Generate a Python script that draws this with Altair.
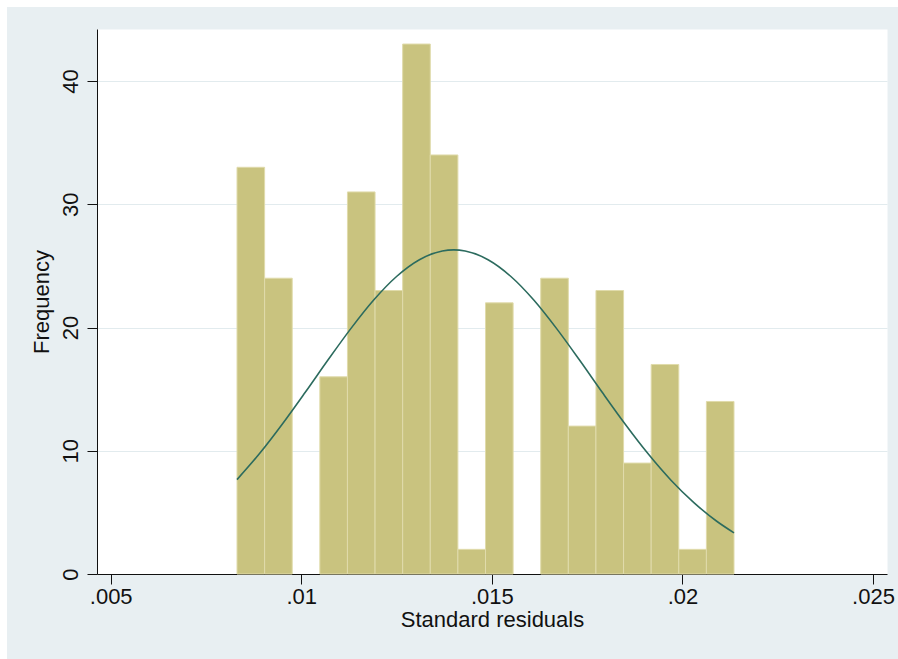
import altair as alt
import pandas as pd

# ---- data ----
bin_start = 0.008314
bin_width = 0.0007244
counts = [33, 24, 0, 16, 31, 23, 43, 34, 2, 22, 0, 24, 12, 23, 9, 17, 2, 14]

curve_x = [0.008314, 0.0089, 0.0095, 0.0101, 0.0107, 0.0113, 0.0119, 0.0125,
           0.0131, 0.0137, 0.0140, 0.0143, 0.0149, 0.0155, 0.0161, 0.0167,
           0.0173, 0.0179, 0.0185, 0.0191, 0.0197, 0.0203, 0.0209, 0.021353]
curve_y = [7.66, 9.75, 12.15, 14.72, 17.36, 19.91, 22.23, 24.14,
           25.50, 26.21, 26.30, 26.21, 25.50, 24.14, 22.23, 19.91,
           17.36, 14.72, 12.15, 9.75, 7.61, 5.79, 4.28, 3.34]

x_ticks = [0.005, 0.01, 0.015, 0.02, 0.025]
y_ticks = [0, 10, 20, 30, 40]

# ---- tables ----
bars = pd.DataFrame({
    "x0": [bin_start + i * bin_width for i in range(len(counts))],
    "x1": [bin_start + (i + 1) * bin_width for i in range(len(counts))],
    "count": counts,
})
bars = bars[bars["count"] > 0]
curve = pd.DataFrame({"x": curve_x, "y": curve_y})
dummy = pd.DataFrame({"a": [0]})

FONT = "Liberation Sans"
FS = 22
W, H = 790, 545

xscale = alt.Scale(domain=[0.004641, 0.025367], nice=False, zero=False)
yscale = alt.Scale(domain=[0, 44.22], nice=False)

xaxis = alt.Axis(
    values=x_ticks, title="Standard residuals", grid=False,
    labelExpr="slice(format(datum.value, '.3~f'), 1)",
    labelFont=FONT, labelFontSize=FS, labelColor="#111",
    titleFont=FONT, titleFontSize=FS, titleFontWeight="normal", titleColor="#111",
    tickSize=10, tickColor="#111", domainColor="#111", labelPadding=2,
    titlePadding=2, labelFlush=False, labelOverlap=False,
)
yaxis = alt.Axis(
    values=y_ticks, title="Frequency", grid=True, gridColor="#e2ebee", gridWidth=1.2,
    labelAngle=270, labelAlign="center", labelBaseline="alphabetic",
    labelFont=FONT, labelFontSize=FS, labelColor="#111",
    titleFont=FONT, titleFontSize=FS, titleFontWeight="normal", titleColor="#111",
    tickSize=10, tickColor="#111", domainColor="#111", labelPadding=10,
    titlePadding=6, labelFlush=False, labelOverlap=False,
)

hist = alt.Chart(bars).mark_rect(
    color="#c9c37f", stroke="#e0dbab", strokeWidth=1
).encode(
    x=alt.X("x0:Q", scale=xscale, axis=xaxis),
    x2="x1:Q",
    y=alt.Y("count:Q", scale=yscale, axis=yaxis),
    y2=alt.datum(0),
)

line = alt.Chart(curve).mark_line(
    color="#2c6b5e", strokeWidth=1.6, interpolate="monotone"
).encode(
    x=alt.X("x:Q", scale=xscale),
    y=alt.Y("y:Q", scale=yscale),
)

# white border strips at the top and left of the picture
top_strip = alt.Chart(dummy).mark_rect(color="white").encode(
    x=alt.value(-97), x2=alt.value(W + 11), y=alt.value(-29), y2=alt.value(-22)
)
left_strip = alt.Chart(dummy).mark_rect(color="white").encode(
    x=alt.value(-97), x2=alt.value(-90), y=alt.value(-29), y2=alt.value(H + 85)
)

chart = alt.layer(hist, line, top_strip, left_strip).properties(
    width=W, height=H,
    autosize=alt.AutoSizeParams(type="none"),
    padding={"left": 97, "top": 29, "right": 11, "bottom": 85},
    background="#e8eff2",
).configure_view(stroke="transparent", fill="white")

chart.save("out.html", embed_options={"renderer": "svg", "actions": False})
